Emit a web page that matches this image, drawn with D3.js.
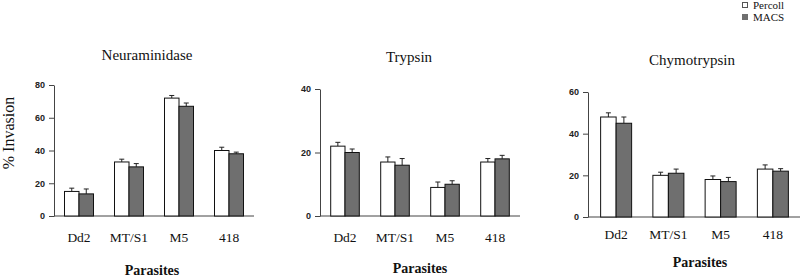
<!DOCTYPE html>
<html>
<head>
<meta charset="utf-8">
<script src="https://cdn.jsdelivr.net/npm/d3@7"></script>
<style>
  body { margin: 0; background: #fff; }
  svg { display: block; }
</style>
</head>
<body>
<svg id="chart" width="800" height="277"></svg>
<script>
// data
var parasites = ["Dd2", "MT/S1", "M5", "418"]
var seriesNames = ["Percoll", "MACS"]
var panelTitles = ["Neuraminidase", "Trypsin", "Chymotrypsin"]

var neuraPercoll = [15, 33, 72, 40]
var neuraMacs = [13.5, 30, 67, 38]
var neuraPercollErr = [2, 1.7, 1.6, 2]
var neuraMacsErr = [3, 2, 2, 1]

var trypPercoll = [22, 17, 9, 17]
var trypMacs = [20, 16, 10, 18]
var trypPercollErr = [1.2, 1.6, 1.7, 1.1]
var trypMacsErr = [1.1, 2.1, 1.1, 1.1]

var chymoPercoll = [48, 20, 18, 23]
var chymoMacs = [45, 21, 17, 22]
var chymoPercollErr = [2, 1.5, 1.7, 2]
var chymoMacsErr = [3, 2, 2, 1.2]

var neuraTicks = [0, 20, 40, 60, 80]
var trypTicks = [0, 20, 40]
var chymoTicks = [0, 20, 40, 60]

var svg = d3.select("#chart")
var colors = ["#ffffff", "#6f6f6f"]
var serif = "'Liberation Serif', 'Times New Roman', serif"

// layout for each small chart
var panels = [
  { title: panelTitles[0], vals: [neuraPercoll, neuraMacs], errs: [neuraPercollErr, neuraMacsErr], ticks: neuraTicks,
    axisX: 54, x0: 54, x1: 254, axisEnd: 254, yTop: 85, yBot: 216, bw: 14.5, titleX: 147, titleY: 60, catY: 242, labX: 152, labY: 275 },
  { title: panelTitles[1], vals: [trypPercoll, trypMacs], errs: [trypPercollErr, trypMacsErr], ticks: trypTicks,
    axisX: 320, x0: 320, x1: 520, axisEnd: 520, yTop: 89, yBot: 216, bw: 14.3, titleX: 409, titleY: 62, catY: 242, labX: 420, labY: 273 },
  { title: panelTitles[2], vals: [chymoPercoll, chymoMacs], errs: [chymoPercollErr, chymoMacsErr], ticks: chymoTicks,
    axisX: 588, x0: 590, x1: 799, axisEnd: 802, yTop: 92, yBot: 217, bw: 15.5, titleX: 692, titleY: 65, catY: 239, labX: 700, labY: 267 }
]

panels.forEach(function(p) {
  var x = d3.scaleBand().domain(parasites).range([p.x0, p.x1])
  var y = d3.scaleLinear().domain([0, d3.max(p.ticks)]).range([p.yBot, p.yTop])

  var g = svg.append("g")

  // y axis
  var yAxis = g.append("g")
    .attr("transform", "translate(" + p.axisX + ",0)")
    .call(d3.axisLeft(y).tickValues(p.ticks).tickSize(5).tickSizeOuter(0).tickPadding(4))
  yAxis.select(".domain").attr("stroke", "#444")
  yAxis.selectAll(".tick line").attr("stroke", "#444")
  yAxis.selectAll("text")
    .style("font-family", "'Liberation Sans', Arial, sans-serif")
    .style("font-weight", "bold")
    .style("font-size", "9px")
    .attr("fill", "#222")

  // x axis baseline
  g.append("line")
    .attr("x1", p.axisX).attr("x2", p.axisEnd)
    .attr("y1", y(0)).attr("y2", y(0))
    .attr("stroke", "#444")

  // bars with upper error bars
  seriesNames.forEach(function(s, si) {
    p.vals[si].forEach(function(v, i) {
      var cx = x(parasites[i]) + x.bandwidth() / 2
      var left = si === 0 ? cx - p.bw : cx
      var e = p.errs[si][i]
      var mid = left + p.bw / 2
      g.append("line")
        .attr("x1", mid).attr("x2", mid)
        .attr("y1", y(v)).attr("y2", y(v + e))
        .attr("stroke", "#222").attr("stroke-width", 1)
      g.append("line")
        .attr("x1", mid - 2.5).attr("x2", mid + 2.5)
        .attr("y1", y(v + e)).attr("y2", y(v + e))
        .attr("stroke", "#222").attr("stroke-width", 1)
      g.append("rect")
        .attr("x", left).attr("y", y(v))
        .attr("width", p.bw).attr("height", y(0) - y(v))
        .attr("fill", colors[si])
        .attr("stroke", "#111").attr("stroke-width", 1)
    })
  })

  // category labels
  g.selectAll(".cat")
    .data(parasites)
    .enter()
    .append("text")
    .attr("x", function(d) { return x(d) + x.bandwidth() / 2 })
    .attr("y", p.catY)
    .attr("text-anchor", "middle")
    .style("font-family", serif)
    .style("font-size", "13.5px")
    .attr("fill", "#111")
    .text(function(d) { return d })

  g.append("text")
    .attr("x", p.titleX).attr("y", p.titleY)
    .attr("text-anchor", "middle")
    .style("font-family", serif).style("font-size", "15px")
    .attr("fill", "#111")
    .text(p.title)

  g.append("text")
    .attr("x", p.labX).attr("y", p.labY)
    .attr("text-anchor", "middle")
    .style("font-family", serif).style("font-size", "14px").style("font-weight", "bold")
    .attr("fill", "#111")
    .text("Parasites")
})

// y label
svg.append("text")
  .attr("transform", "translate(14,133) rotate(-90)")
  .attr("text-anchor", "middle")
  .style("font-family", serif).style("font-size", "16px")
  .attr("fill", "#111")
  .text("% Invasion")

// legend
var legend = svg.selectAll(".legend")
  .data(seriesNames)
  .enter()
  .append("g")
  .attr("transform", function(d, i) { return "translate(742," + (2 + i * 12) + ")" })

legend.append("rect")
  .attr("x", 0.5).attr("y", 0.5)
  .attr("width", 5).attr("height", 5)
  .attr("fill", function(d, i) { return colors[i] })
  .attr("stroke", function(d, i) { return i === 0 ? "#555" : colors[i] })

legend.append("text")
  .attr("x", 11).attr("y", 7)
  .style("font-family", serif).style("font-size", "11px")
  .attr("fill", "#111")
  .text(function(d) { return d })
</script>
</body>
</html>
